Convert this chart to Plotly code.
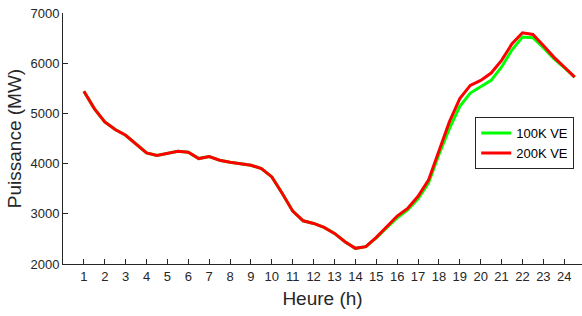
import plotly.graph_objects as go

hours = [1, 1.5, 2, 2.5, 3, 3.5, 4, 4.5, 5, 5.5, 6, 6.5, 7, 7.5, 8, 8.5, 9, 9.5,
         10, 10.5, 11, 11.5, 12, 12.5, 13, 13.5, 14, 14.5, 15, 15.5, 16, 16.5,
         17, 17.5, 18, 18.5, 19, 19.5, 20, 20.5, 21, 21.5, 22, 22.5, 23, 23.5, 24, 24.5]

ve_100k = [5440, 5095, 4830, 4678, 4565, 4380, 4213, 4160, 4200, 4246, 4227, 4100,
           4140, 4068, 4028, 4000, 3968, 3900, 3735, 3405, 3053, 2860, 2808, 2730,
           2610, 2443, 2312, 2345, 2520, 2725, 2920, 3080, 3300, 3610, 4180, 4697,
           5141, 5406, 5526, 5658, 5924, 6268, 6520, 6507, 6308, 6090, 5910, 5724]

ve_200k = [5440, 5095, 4830, 4678, 4565, 4380, 4213, 4160, 4200, 4246, 4227, 4100,
           4140, 4068, 4028, 4000, 3968, 3900, 3735, 3405, 3053, 2860, 2808, 2730,
           2610, 2443, 2312, 2345, 2530, 2742, 2955, 3107, 3350, 3670, 4266, 4830,
           5294, 5559, 5658, 5804, 6056, 6387, 6606, 6573, 6354, 6122, 5924, 5724]

x_ticks = list(range(1, 25))
y_ticks = [2000, 3000, 4000, 5000, 6000, 7000]

axis_color = "#262626"
font_family = "Liberation Sans, Arial, sans-serif"

fig = go.Figure()
fig.add_trace(go.Scatter(x=hours, y=ve_100k, mode="lines", name="100K VE",
                         line=dict(color="#00ff00", width=3)))
fig.add_trace(go.Scatter(x=hours, y=ve_200k, mode="lines", name="200K VE",
                         line=dict(color="#ff0000", width=3)))

fig.update_layout(
    width=582, height=316,
    margin=dict(l=63, r=0, t=13, b=52, autoexpand=False),
    paper_bgcolor="white", plot_bgcolor="white",
    font=dict(family=font_family, color=axis_color, size=13),
    legend=dict(x=0.985, y=0.585, xanchor="right", yanchor="top",
                bordercolor=axis_color, borderwidth=1, bgcolor="white",
                font=dict(size=13, color="#000000"),
                tracegroupgap=0, itemwidth=30),
    showlegend=True,
)
fig.update_xaxes(
    range=[0, 24.85], tickvals=x_ticks, ticktext=[str(t) for t in x_ticks],
    showgrid=False, zeroline=False, showline=True, linecolor=axis_color, linewidth=1,
    ticks="inside", ticklen=5, tickcolor=axis_color, tickfont=dict(size=13),
    title=dict(text="Heure (h)", font=dict(size=19), standoff=9),
    automargin=False,
)
fig.update_yaxes(
    range=[2000, 7000], tickvals=y_ticks, ticktext=[str(t) for t in y_ticks],
    showgrid=False, zeroline=False, showline=True, linecolor=axis_color, linewidth=1,
    ticks="inside", ticklen=5, tickcolor=axis_color, tickfont=dict(size=13),
    title=dict(text="Puissance (MW)", font=dict(size=19), standoff=3),
    automargin=False,
)

fig.write_html("out.html", config={"displayModeBar": False},
               post_script="document.body.style.margin='0';")
